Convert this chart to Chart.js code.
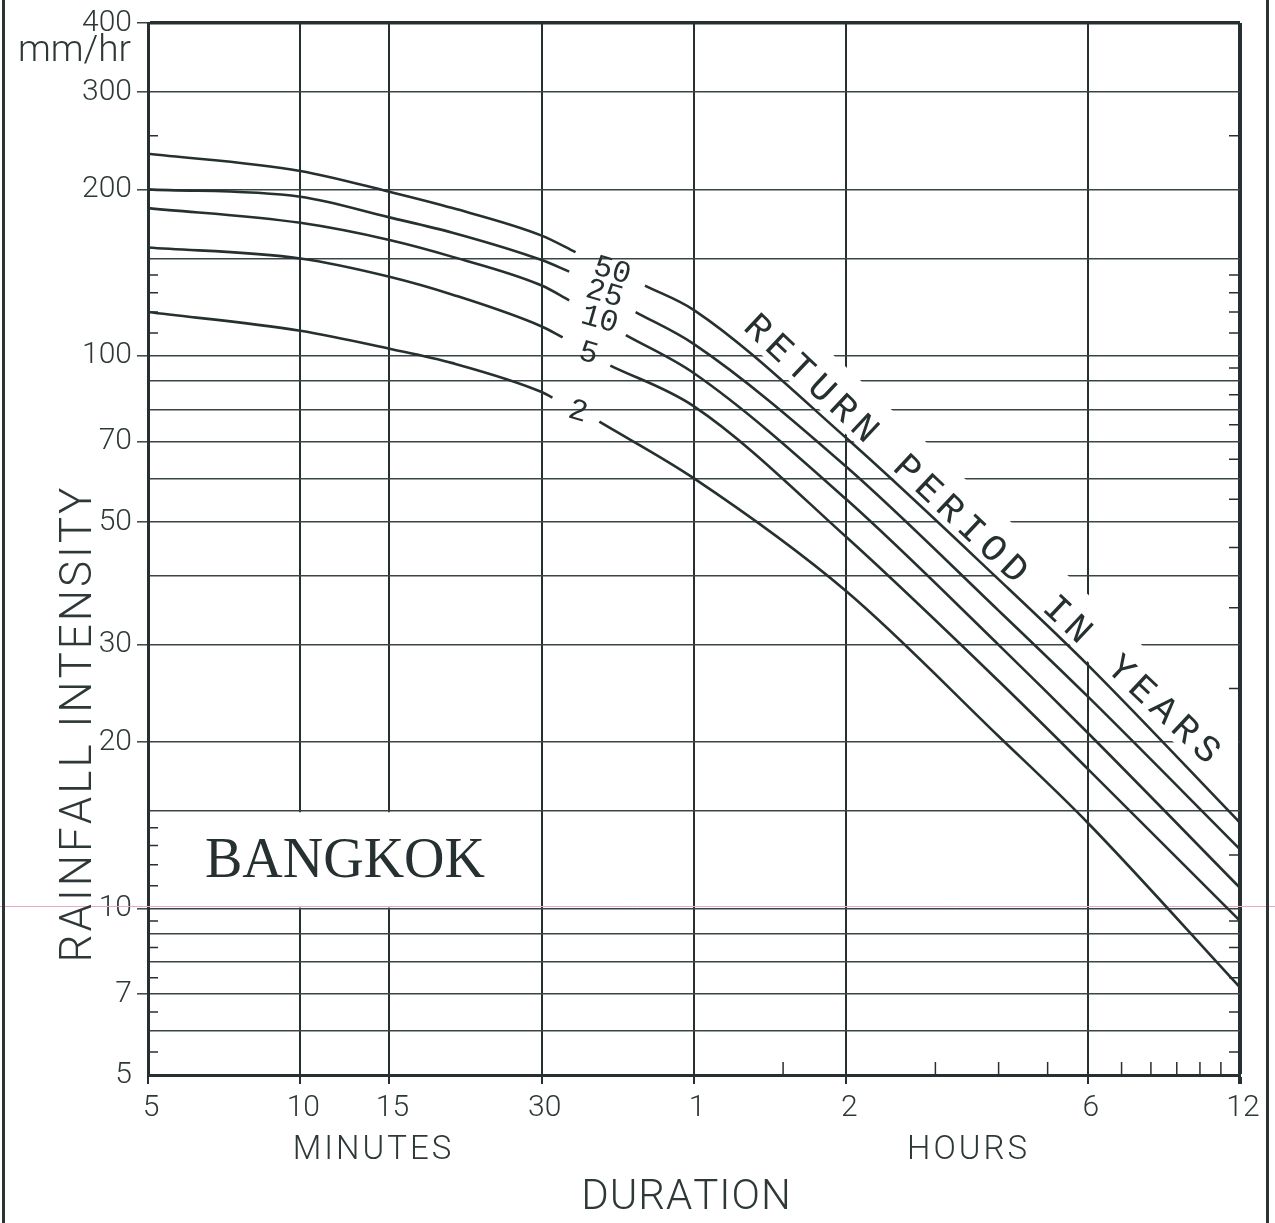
<!DOCTYPE html>
<html>
<head>
<meta charset="utf-8">
<title>Bangkok rainfall intensity - duration</title>
<script src="https://cdn.jsdelivr.net/npm/chart.js@4.4.1/dist/chart.umd.min.js"></script>
<style>
    html, body { margin: 0; padding: 0; background: #fff; }
    #wrap { position: relative; width: 1275px; height: 1223px; }
    .edge { position: absolute; top: 0; width: 3px; height: 1223px; background: #2b3434; }
</style>
</head>
<body>
<div id="wrap">
    <canvas id="idfChart" width="1275" height="1223"></canvas>
    <div class="edge" style="left:2px"></div>
    <div class="edge" style="left:1266px"></div>
</div>
<script>
// durations in minutes, intensities in mm/hr
// each curve is drawn in two pieces, with the return period written in the gap
const shortMin50 = [5, 10, 15, 20, 30, 35];
const shortVal50 = [232, 216, 198, 185, 165, 154];
const longMin50 = [48, 60, 120, 240, 360, 720];
const longVal50 = [134, 121, 71, 39.4, 27.6, 14.3];

const shortMin25 = [5, 10, 15, 20, 30, 34];
const shortVal25 = [200, 194, 178, 167, 149, 142];
const longMin25 = [46, 60, 120, 240, 360, 720];
const longVal25 = [120, 105, 63, 34.6, 24.2, 12.8];

const shortMin10 = [5, 10, 15, 20, 30, 34];
const shortVal10 = [185, 174, 162, 151, 134, 126];
const longMin10 = [44, 60, 120, 240, 360, 720];
const longVal10 = [109, 93, 55, 30, 20.8, 10.9];

const shortMin5 = [5, 10, 15, 20, 30, 33];
const shortVal5 = [157, 150, 139, 129, 113, 108];
const longMin5 = [41, 60, 120, 240, 360, 720];
const longVal5 = [96, 81, 47, 25.8, 17.9, 9.5];

const shortMin2 = [5, 10, 15, 20, 30, 31.5];
const shortVal2 = [120, 111, 103, 97, 86, 84];
const longMin2 = [39, 60, 120, 240, 360, 720];
const longVal2 = [76, 60, 37.5, 20.5, 14.3, 7.2];

const returnPeriods = ['50', '25', '10', '5', '2'];

const xGridMinutes = [5, 10, 15, 30, 60, 120, 360, 720];
const xTickText = ['5', '10', '15', '30', '1', '2', '6', '12'];
const yGridValues = [5, 6, 7, 8, 9, 10, 15, 20, 30, 40, 50, 60, 70, 80, 90, 100, 150, 200, 300, 400];
const yTickValues = [5, 7, 10, 20, 30, 50, 70, 100, 200, 300, 400];

const leftMinorTicks = [5.5, 6.5, 7.5, 8.5, 9.5, 11, 12, 13, 14, 110, 120, 130, 140, 250];
const rightMinorTicks = [5.5, 6.5, 7.5, 8.5, 9.5, 12.5, 25, 35, 45, 55, 65, 75, 85, 95, 110, 120, 130, 140, 250];
const bottomMinorTicks = [90, 180, 240, 300, 420, 480, 540, 600, 660];

const ink = '#263030';
const gridInk = '#3a4444';
const sansFont = 'Roboto, "Liberation Sans", sans-serif';
const monoFont = '"Liberation Mono", "DejaVu Sans Mono", monospace';
const RETURN_TEXT = 'RETURN PERIOD IN YEARS';
const RETURN_FONT = '38px ' + monoFont;
const RETURN_SPACING = 6.5;

const curves = [
    {label: returnPeriods[0], a: [shortMin50, shortVal50], b: [longMin50, longVal50]},
    {label: returnPeriods[1], a: [shortMin25, shortVal25], b: [longMin25, longVal25]},
    {label: returnPeriods[2], a: [shortMin10, shortVal10], b: [longMin10, longVal10]},
    {label: returnPeriods[3], a: [shortMin5, shortVal5], b: [longMin5, longVal5]},
    {label: returnPeriods[4], a: [shortMin2, shortVal2], b: [longMin2, longVal2]},
];

const toPoints = (mins, vals) => mins.map((m, i) => ({x: m, y: vals[i]}));

let datasets = [];
curves.forEach(c => {
    [c.a, c.b].forEach(seg => {
        datasets.push({
            label: c.label,
            data: toPoints(seg[0], seg[1]),
            borderColor: ink,
            borderWidth: 2.6,
            pointRadius: 0,
            fill: false,
            cubicInterpolationMode: 'monotone'
        });
    });
});

function spacedText(ctx, text, cx, cy, angle, spacing) {
    let chars = [...text];
    let widths = chars.map(c => ctx.measureText(c).width);
    let total = widths.reduce((s, w) => s + w, 0) + spacing * (chars.length - 1);
    ctx.save();
    ctx.translate(cx, cy);
    ctx.rotate(angle);
    ctx.textAlign = 'left';
    ctx.textBaseline = 'middle';
    let px = -total / 2;
    chars.forEach((c, i) => {
        ctx.fillText(c, px, 0);
        px += widths[i] + spacing;
    });
    ctx.restore();
    return total;
}

function returnTextGeometry(chart) {
    const {ctx, scales: {x, y}} = chart;
    ctx.save();
    ctx.font = RETURN_FONT;
    let total = [...RETURN_TEXT].reduce((s, c) => s + ctx.measureText(c).width, 0)
        + RETURN_SPACING * (RETURN_TEXT.length - 1);
    ctx.restore();
    let x1 = x.getPixelForValue(120), y1 = y.getPixelForValue(longVal50[longMin50.indexOf(120)]);
    let x2 = x.getPixelForValue(360), y2 = y.getPixelForValue(longVal50[longMin50.indexOf(360)]);
    return {
        cx: x.getPixelForValue(222),
        cy: y.getPixelForValue(46.5),
        angle: Math.atan2(y2 - y1, x2 - x1),
        total: total
    };
}

const backdrop = {
    id: 'backdrop',
    beforeDatasetsDraw(chart) {
        const {ctx, chartArea: area, scales: {x, y}} = chart;
        ctx.save();
        ctx.fillStyle = '#fff';
        // box that holds the city name
        let bx0 = x.getPixelForValue(5) + 2, bx1 = x.getPixelForValue(30) - 1.5;
        let by0 = y.getPixelForValue(15) + 1, by1 = y.getPixelForValue(10) - 1;
        ctx.fillRect(bx0, by0, bx1 - bx0, by1 - by0);

        // clear strip under the "return period" text
        let g = returnTextGeometry(chart);
        ctx.save();
        ctx.beginPath();
        ctx.rect(area.left + 2, area.top + 2, area.right - area.left - 4, area.bottom - area.top - 4);
        ctx.clip();
        ctx.translate(g.cx, g.cy);
        ctx.rotate(g.angle);
        ctx.fillRect(-g.total / 2 - 12, -33, g.total + 600, 49);
        ctx.restore();

        // scan line
        ctx.strokeStyle = '#e8aac8';
        ctx.lineWidth = 1;
        ctx.beginPath();
        let py = Math.round(y.getPixelForValue(10)) - 2.5;
        ctx.moveTo(0, py);
        ctx.lineTo(chart.width, py);
        ctx.stroke();

        // small inner ticks
        ctx.strokeStyle = ink;
        ctx.lineWidth = 1.5;
        ctx.beginPath();
        leftMinorTicks.forEach(v => {
            let p = y.getPixelForValue(v);
            ctx.moveTo(area.left, p);
            ctx.lineTo(area.left + 10, p);
        });
        rightMinorTicks.forEach(v => {
            let p = y.getPixelForValue(v);
            ctx.moveTo(area.right, p);
            ctx.lineTo(area.right - 11, p);
        });
        bottomMinorTicks.forEach(v => {
            let p = x.getPixelForValue(v);
            ctx.moveTo(p, area.bottom);
            ctx.lineTo(p, area.bottom - 13);
        });
        ctx.stroke();
        ctx.restore();
    }
};

const labels = {
    id: 'labels',
    afterDatasetsDraw(chart) {
        const {ctx, scales: {x, y}} = chart;
        ctx.save();
        ctx.fillStyle = ink;

        // return period beside each gap
        ctx.font = '31px ' + monoFont;
        curves.forEach(c => {
            let n = c.a[0].length - 1;
            let ex = x.getPixelForValue(c.a[0][n]), ey = y.getPixelForValue(c.a[1][n]);
            let sx = x.getPixelForValue(c.b[0][0]), sy = y.getPixelForValue(c.b[1][0]);
            ctx.save();
            ctx.translate((ex + sx) / 2 + 2, (ey + sy) / 2 + 2);
            ctx.rotate(0.28);
            ctx.textAlign = 'center';
            ctx.textBaseline = 'middle';
            ctx.fillText(c.label, 0, 0);
            ctx.restore();
        });

        let g = returnTextGeometry(chart);
        ctx.font = RETURN_FONT;
        spacedText(ctx, RETURN_TEXT, g.cx, g.cy, g.angle, RETURN_SPACING);

        // city name
        ctx.font = '56px "Liberation Serif", "DejaVu Serif", serif';
        ctx.textAlign = 'center';
        ctx.textBaseline = 'middle';
        ctx.fillText('BANGKOK', 345, (y.getPixelForValue(15) + y.getPixelForValue(10)) / 2 + 2);

        // axis words
        ctx.fillStyle = '#2f3838';
        ctx.font = '300 37px ' + sansFont;
        ctx.textAlign = 'right';
        ctx.fillText('mm/hr', 131, 52);

        ctx.textAlign = 'left';
        ctx.font = '300 44px ' + sansFont;
        ctx.save();
        ctx.translate(80, 725);
        ctx.rotate(-Math.PI / 2);
        spacedText(ctx, 'RAINFALL INTENSITY', 0, 0, 0, 3);
        ctx.restore();

        ctx.font = '300 33px ' + sansFont;
        spacedText(ctx, 'MINUTES', 372, 1151, 0, 3);
        spacedText(ctx, 'HOURS', 967, 1151, 0, 3);
        ctx.font = '300 42px ' + sansFont;
        spacedText(ctx, 'DURATION', 686, 1198, 0, 1);
        ctx.restore();
    }
};

const chart = new Chart(document.getElementById('idfChart'), {
    type: 'line',
    data: {datasets: datasets},
    options: {
        responsive: false,
        animation: false,
        layout: {padding: {top: 18, right: 35, left: 0, bottom: 0}},
        plugins: {
            legend: {display: false},
            tooltip: {enabled: false},
            title: {display: false}
        },
        scales: {
            x: {
                type: 'logarithmic',
                position: 'bottom',
                min: 5,
                max: 720,
                afterBuildTicks: s => { s.ticks = xGridMinutes.map(v => ({value: v})); },
                afterFit: s => { s.height = 148; },
                ticks: {
                    autoSkip: false,
                    maxRotation: 0,
                    labelOffset: 3,
                    padding: 6,
                    color: '#2f3838',
                    font: {family: sansFont, size: 30, weight: '300'},
                    callback: (v, i) => xTickText[i]
                },
                grid: {
                    color: ink,
                    lineWidth: c => (c.tick && (c.tick.value === 720)) ? 4 : 2,
                    tickLength: 9,
                    drawTicks: true
                },
                border: {display: true, color: ink, width: 3}
            },
            y: {
                type: 'logarithmic',
                position: 'left',
                min: 5,
                max: 400,
                afterBuildTicks: s => { s.ticks = yGridValues.map(v => ({value: v})); },
                afterFit: s => { s.width = 148; },
                ticks: {
                    autoSkip: false,
                    padding: 5,
                    color: '#2f3838',
                    font: {family: sansFont, size: 30, weight: '300'},
                    callback: v => yTickValues.includes(v) ? String(v) : ''
                },
                grid: {
                    color: c => (c.tick && c.tick.value === 400) ? ink : gridInk,
                    lineWidth: c => (c.tick && c.tick.value === 400) ? 3.5 : 1.6,
                    tickLength: 11,
                    tickColor: c => (c.tick && yTickValues.includes(c.tick.value) && c.tick.value !== 5) ? gridInk : 'rgba(0,0,0,0)',
                    tickWidth: 1.5
                },
                border: {display: true, color: ink, width: 3}
            }
        }
    },
    plugins: [backdrop, labels]
});
</script>
</body>
</html>
